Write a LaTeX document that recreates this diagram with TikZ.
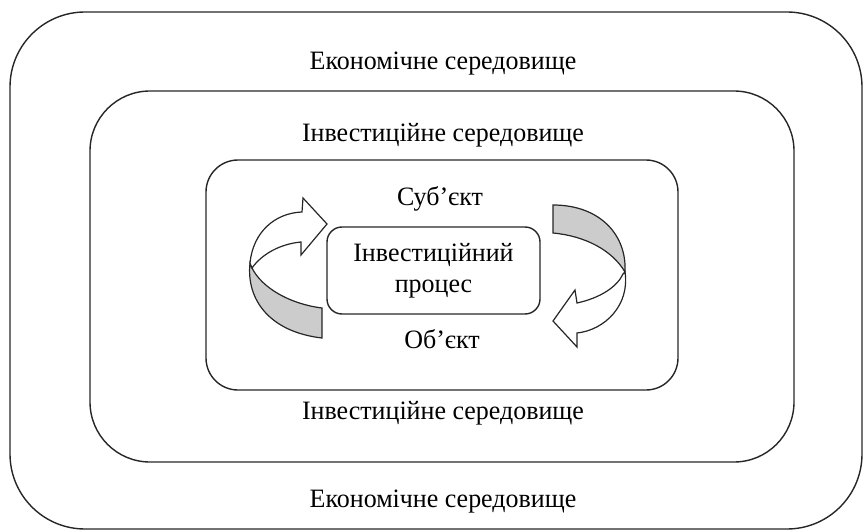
\documentclass[tikz,border=0pt]{standalone}
\usepackage{fontspec}
\setmainfont{Liberation Serif}[FakeStretch=0.98]
\begin{document}
\begin{tikzpicture}[x=1pt,y=-1pt,
  box/.style={draw=black!85, line width=1.4pt},
  lbl/.style={font=\fontsize{26.5}{31}\selectfont, inner sep=0pt, anchor=base},
  rib/.style={draw=black!85, line width=1.2pt, line join=miter}]
\useasboundingbox (0,0) rectangle (865,532);
% nested environments
\draw[box, rounded corners=75pt] (10,12) rectangle (862,529);
\draw[box, rounded corners=60pt] (90,91) rectangle (794,462);
\draw[box, rounded corners=32pt] (206,160) rectangle (678,390);
% central process
\node[box, rounded corners=15pt, minimum width=213pt, minimum height=87pt,
      align=center, font=\fontsize{26.5}{31}\selectfont, inner sep=0pt]
      (proc) at (433.5,270.5) {Інвестиційний\\процес};
% labels
\node[lbl] (econtop) at (443,70) {Економічне середовище};
\node[lbl] (invtop) at (443,142) {Інвестиційне середовище};
\node[lbl] (subj) at (440,205) {Суб’єкт};
\node[lbl] (obj) at (442,348) {Об’єкт};
\node[lbl] (invbot) at (443,419) {Інвестиційне середовище};
\node[lbl] (econbot) at (443,507) {Економічне середовище};
% left twisted arrow
\filldraw[rib, fill=gray!40] (250,263) .. controls (246,300) and (270,332) .. (322,338)
  -- (322,308) .. controls (290,304) and (262,288) .. (252,268) -- cycle;
\filldraw[rib, fill=white] (250,263) .. controls (253,232) and (275,213) .. (302,212)
  -- (303,198) -- (327,224) -- (301,255) -- (301,242)
  .. controls (280,244) and (262,254) .. (252,268) -- cycle;
% right twisted arrow
\filldraw[rib, fill=gray!40] (553,205) .. controls (600,205) and (627,235) .. (625,272)
  .. controls (612,250) and (585,236) .. (553,233) -- cycle;
\filldraw[rib, fill=white] (625,272) .. controls (630,305) and (605,330) .. (577,333)
  -- (577,347) -- (553,321) -- (575,290) -- (577,303)
  .. controls (600,298) and (617,287) .. (623,274) -- cycle;
\end{tikzpicture}
\end{document}
